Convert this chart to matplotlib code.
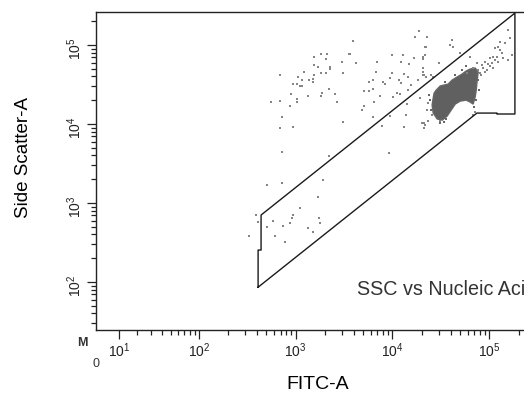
import matplotlib
matplotlib.use('Agg')
import matplotlib.pyplot as plt
from matplotlib.ticker import FixedLocator, NullFormatter

plt.rcParams['font.family'] = ['Liberation Sans', 'DejaVu Sans']
plt.rcParams['mathtext.default'] = 'regular'

# events outside the dense population (FITC-A, SSC-A)
pts_fitc = [
    1837, 2118, 3573, 1555, 2070, 3027, 1555, 1710, 2275, 2275,
    1227, 1837, 2070, 3097, 693, 1063, 1555, 1169, 1380, 1518,
    1518, 944, 1038, 1114, 1169, 2223, 1880, 900, 1349, 1837,
    2563, 1038, 1038, 560, 693, 2685, 879, 727, 3097, 693, 944,
    18840, 22800, 17140, 3926, 22280, 3656, 9931, 12880, 20750, 20750,
    16750, 4217, 6950, 12270, 14860, 30340, 6792, 9931, 13180, 14520,
    20750, 20750, 25060, 22280, 9462, 6318, 8017, 11720, 18410, 5743,
    8395, 15600, 12270, 14520, 5105, 5743, 6318, 11170, 11990, 7464,
    10160, 19320, 6471, 5105, 4864, 14160, 6318, 13840, 9462,
    7816, 13180, 20230, 21230, 21230, 31050, 9247,
    727, 2223, 509, 727, 1710, 1114, 392, 944, 922, 411, 587,
    879, 1750, 1793, 509, 744, 1349, 1518, 332, 615, 780, 1928,
    156300, 163700, 145500, 129100, 123300, 114800, 129100, 135500, 138700, 120200,
    109400, 101800, 123300, 90360, 84140, 74820, 67920, 171800, 156300, 41300,
    39360, 42270, 21730, 21730, 49890, 20750, 21230, 26300, 63240, 58880,
    94840, 109400, 80350, 23330, 22800, 25640, 23330, 21730, 67920, 71290,
    97000, 106900, 114800, 86300, 76600, 82200, 90360, 101800,
]
pts_ssc = [
    76900, 76900, 76900, 70500, 66500, 60900, 55800, 52700, 52700, 49700,
    45500, 44200, 44200, 44200, 41700, 39400, 41700, 36100, 36100, 37200,
    34000, 32100, 32100, 30300, 30300, 27700, 24700, 24000, 22600, 22600,
    24000, 20700, 19000, 19000, 19500, 19000, 16900, 12300, 10600, 8900, 9170,
    150300, 126200, 126200, 112400, 94400, 76900, 74700, 74700, 70500, 66500,
    68400, 59200, 60900, 60900, 57400, 59200, 45500, 44200, 43000, 39400,
    45500, 41700, 41700, 39400, 38200, 36100, 34000, 36100, 36100, 34000,
    32100, 31200, 33000, 26900, 26200, 26200, 27700, 24700, 24000, 22600,
    22000, 21300, 19000, 16900, 15000, 17900, 12300, 13000, 12600,
    9440, 9170, 10300, 10300, 8900, 10900, 4300,
    4420, 3940, 1690, 1790, 1190, 865, 705, 705, 646, 574, 592,
    558, 646, 558, 497, 512, 483, 430, 382, 382, 321, 1960,
    154900, 122700, 105900, 109100, 94400, 91700, 86500, 79300, 68400, 70500,
    70500, 68400, 60900, 60900, 55800, 59200, 51200, 74700, 64600, 115700,
    100000, 94400, 94400, 74700, 79300, 51200, 41700, 39400, 70500, 44200,
    48300, 51200, 44200, 18400, 15000, 13000, 10900, 9710, 13000, 14200,
    57400, 59200, 64600, 51200, 48300, 41700, 45500, 54200,
]

# outline of the dense population
cluster_fitc = [28250, 31050, 37580, 41300, 46450, 52360, 57500, 63240, 71290, 76600,
                74820, 73100, 71290, 67920, 63240, 57500, 49890, 44400, 40300, 36600,
                32600, 28910, 26300, 25640, 26300, 26900]
cluster_ssc = [26900, 30300, 32100, 36100, 39400, 43000, 46900, 49700, 51200, 45500,
               36100, 26900, 22000, 17900, 19000, 20100, 19500, 17900, 15000, 12600,
               11200, 11600, 13800, 17400, 21300, 24700]
edge_fitc = [24500, 23900, 25060, 34100, 31050, 35800, 76600, 78300, 73100, 69700,
             34990, 44400, 52360, 57500]
edge_ssc = [20100, 23300, 15000, 10600, 10300, 11600, 36100, 26900, 20100, 16400,
            34000, 41700, 48300, 54200]

# gate
gate_fitc = [411, 411, 441, 441, 183200, 183200, 119500, 119500, 74300, 411]
gate_ssc = [86, 254, 254, 705, 254000, 13400, 13400, 13770, 13770, 86]

x_major = [10, 100, 1000, 10000, 100000]
x_labels = ['$10^{1}$', '$10^{2}$', '$10^{3}$', '$10^{4}$', '$10^{5}$']
y_major = [100, 1000, 10000, 100000]
y_labels = ['$10^{2}$', '$10^{3}$', '$10^{4}$', '$10^{5}$']

fig = plt.figure(figsize=(5.24, 3.94), dpi=100)
ax = fig.add_axes([96 / 524, 64 / 394, 434 / 524, 318 / 394])

ax.set_xscale('asinh', linear_width=17.5)
ax.set_yscale('log')
ax.set_xlim(0, 262144)
ax.set_ylim(24.7, 262144)

ax.fill(cluster_fitc, cluster_ssc, color='#606060', lw=1.0, ec='#666666')
ax.scatter(edge_fitc, edge_ssc, s=4.5, marker='s', color='#666666', linewidths=0)
ax.scatter(pts_fitc, pts_ssc, s=4.5, marker='s', color='#858585', linewidths=0)
ax.plot(gate_fitc, gate_ssc, color='#1a1a1a', lw=1.0)

minor_x = [m * 10 ** e for e in range(1, 5) for m in range(2, 10)] + [200000]
minor_y = [m * 10 for m in range(3, 10)] + \
    [m * 10 ** e for e in range(2, 5) for m in range(2, 10)] + [200000]
ax.xaxis.set_major_locator(FixedLocator(x_major))
ax.xaxis.set_minor_locator(FixedLocator(minor_x))
ax.yaxis.set_major_locator(FixedLocator(y_major))
ax.yaxis.set_minor_locator(FixedLocator(minor_y))
ax.set_xticklabels(x_labels)
ax.set_yticklabels(y_labels)
ax.xaxis.set_minor_formatter(NullFormatter())
ax.yaxis.set_minor_formatter(NullFormatter())

ax.tick_params(which='major', direction='out', length=6.5, width=0.9,
               color='#222222', labelsize=10, labelcolor='#222222', pad=2)
ax.tick_params(which='minor', direction='out', length=3.8, width=0.9, color='#222222')
ax.tick_params(axis='y', labelrotation=90)

for side in ['left', 'bottom', 'top']:
    ax.spines[side].set_color('#222222')
    ax.spines[side].set_linewidth(1.0)
ax.spines['right'].set_visible(False)

ax.text(0, -0.107, '0', transform=ax.get_xaxis_transform(), ha='center',
        va='center', fontsize=9, color='#333333')
ax.text(-0.032, -0.041, 'M', transform=ax.transAxes, ha='center', va='center',
        fontsize=9, fontweight='bold', color='#333333')

fig.text(24 / 524, 1 - 158 / 394, 'Side Scatter-A', rotation=90, ha='center',
         va='center', fontsize=13.5)
fig.text(318 / 524, 1 - 389 / 394, 'FITC-A', ha='center', va='baseline', fontsize=14)
# the reference crops this title at the right edge of the image
fig.text(357 / 524, 1 - 295 / 394, 'SSC vs Nucleic Acid', ha='left', va='baseline',
         fontsize=14.2, color='#333333')

fig.savefig('out.png', dpi=100)
